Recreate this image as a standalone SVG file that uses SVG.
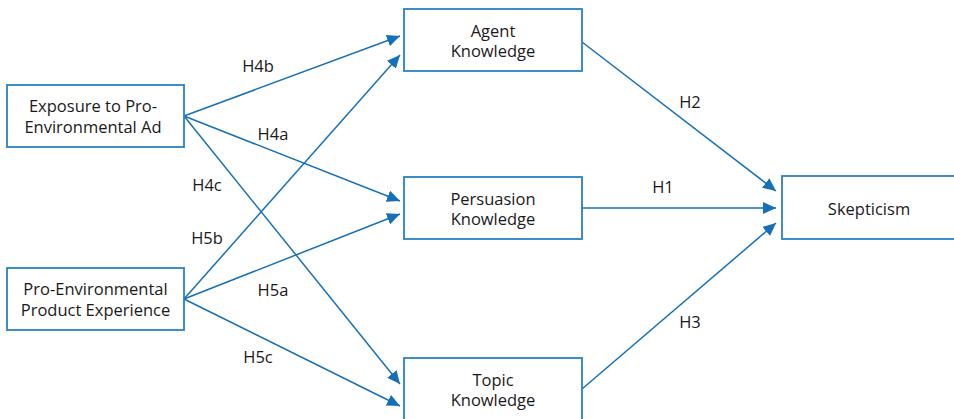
<svg xmlns="http://www.w3.org/2000/svg" width="954" height="419" viewBox="0 0 954 419">
<defs>
<marker id="arr" markerUnits="userSpaceOnUse" markerWidth="14" markerHeight="12" refX="13" refY="6" orient="auto">
<path d="M0,0 L13,6 L0,12 Z" fill="#1570b8"/>
</marker>
<style>
.box{fill:#fff;stroke:#2b82c6;stroke-width:1.8}
.t{font-family:"Open Sans","Liberation Sans",sans-serif;font-size:16.5px;fill:#1a1a1a;text-anchor:middle}
.c line{stroke:#1570b8;stroke-width:1.5;marker-end:url(#arr)}
</style>
</defs>
<rect width="954" height="419" fill="#fff"/>
<g class="c" id="connectors">
<line x1="184" y1="116" x2="400" y2="36"/>
<line x1="184" y1="116" x2="400" y2="201"/>
<line x1="184" y1="116" x2="400" y2="384"/>
<line x1="184" y1="299" x2="400" y2="55"/>
<line x1="184" y1="299" x2="400" y2="214"/>
<line x1="184" y1="299" x2="400" y2="406"/>
<line x1="582" y1="42" x2="776" y2="191"/>
<line x1="582" y1="208" x2="776" y2="208"/>
<line x1="582" y1="389" x2="776" y2="223"/>
</g>
<g id="labels">
<text class="t" x="258" y="72">H4b</text>
<text class="t" x="273" y="140">H4a</text>
<text class="t" x="207" y="191">H4c</text>
<text class="t" x="207" y="244">H5b</text>
<text class="t" x="273" y="296">H5a</text>
<text class="t" x="258" y="363">H5c</text>
<text class="t" x="690" y="108">H2</text>
<text class="t" x="663" y="193">H1</text>
<text class="t" x="690" y="328">H3</text>
</g>
<g id="exposure">
<rect class="box" x="7" y="85" width="177" height="62"/>
<text class="t" x="93" y="112">Exposure to Pro-</text>
<text class="t" x="93" y="133">Environmental Ad</text>
</g>
<g id="product">
<rect class="box" x="7" y="268" width="177" height="62"/>
<text class="t" x="95.5" y="295">Pro-Environmental</text>
<text class="t" x="95.5" y="316">Product Experience</text>
</g>
<g id="agent">
<rect class="box" x="404" y="9" width="178" height="62"/>
<text class="t" x="493" y="37">Agent</text>
<text class="t" x="493" y="57">Knowledge</text>
</g>
<g id="persuasion">
<rect class="box" x="404" y="177" width="178" height="62"/>
<text class="t" x="493" y="205">Persuasion</text>
<text class="t" x="493" y="225">Knowledge</text>
</g>
<g id="topic">
<rect class="box" x="404" y="358" width="178" height="64"/>
<text class="t" x="493" y="386">Topic</text>
<text class="t" x="493" y="406">Knowledge</text>
</g>
<g id="skepticism">
<rect class="box" x="782" y="176" width="180" height="63"/>
<text class="t" x="869" y="215">Skepticism</text>
</g>
</svg>
